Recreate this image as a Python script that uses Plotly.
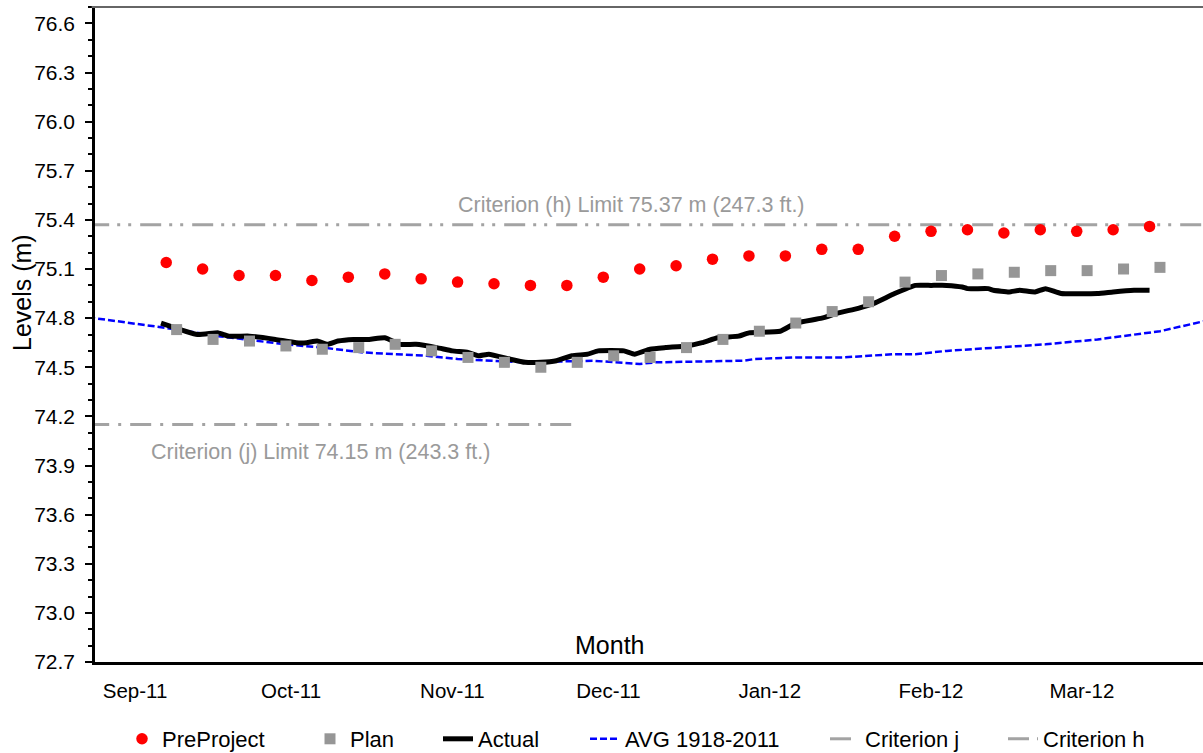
import plotly.graph_objects as go

# ---------------- data ----------------
month_ticks = ["2011-09-01", "2011-10-01", "2011-11-01", "2011-12-01",
               "2012-01-01", "2012-02-01", "2012-03-01"]
month_labels = ["Sep-11", "Oct-11", "Nov-11", "Dec-11", "Jan-12", "Feb-12", "Mar-12"]

preproject_dates = ["2011-09-07", "2011-09-14", "2011-09-21", "2011-09-28", "2011-10-05",
                    "2011-10-12", "2011-10-19", "2011-10-26", "2011-11-02", "2011-11-09",
                    "2011-11-16", "2011-11-23", "2011-11-30", "2011-12-07", "2011-12-14",
                    "2011-12-21", "2011-12-28", "2012-01-04", "2012-01-11", "2012-01-18",
                    "2012-01-25", "2012-02-01", "2012-02-08", "2012-02-15", "2012-02-22",
                    "2012-02-29", "2012-03-07", "2012-03-14"]
preproject_vals = [75.14, 75.10, 75.06, 75.06, 75.03, 75.05, 75.07, 75.04, 75.02, 75.01,
                   75.00, 75.00, 75.05, 75.10, 75.12, 75.16, 75.18, 75.18, 75.22, 75.22,
                   75.30, 75.33, 75.34, 75.32, 75.34, 75.33, 75.34, 75.36]

plan_dates = ["2011-09-09", "2011-09-16", "2011-09-23", "2011-09-30", "2011-10-07",
              "2011-10-14", "2011-10-21", "2011-10-28", "2011-11-04", "2011-11-11",
              "2011-11-18", "2011-11-25", "2011-12-02", "2011-12-09", "2011-12-16",
              "2011-12-23", "2011-12-30", "2012-01-06", "2012-01-13", "2012-01-20",
              "2012-01-27", "2012-02-03", "2012-02-10", "2012-02-17", "2012-02-24",
              "2012-03-02", "2012-03-09", "2012-03-16"]
plan_vals = [74.73, 74.67, 74.66, 74.63, 74.61, 74.62, 74.64, 74.60, 74.56, 74.53,
             74.50, 74.53, 74.57, 74.56, 74.62, 74.67, 74.72, 74.77, 74.84, 74.90,
             75.02, 75.06, 75.07, 75.08, 75.09, 75.09, 75.10, 75.11]

actual_dates = ["2011-09-06", "2011-09-13", "2011-09-17", "2011-09-19", "2011-09-23",
                "2011-09-28", "2011-10-02", "2011-10-04", "2011-10-06", "2011-10-08",
                "2011-10-10", "2011-10-13", "2011-10-16", "2011-10-19", "2011-10-22",
                "2011-10-25", "2011-10-29", "2011-11-01", "2011-11-04", "2011-11-06",
                "2011-11-08", "2011-11-12", "2011-11-15", "2011-11-18", "2011-11-21",
                "2011-11-24", "2011-11-27", "2011-11-29", "2011-12-04", "2011-12-06",
                "2011-12-09", "2011-12-12", "2011-12-16", "2011-12-19", "2011-12-22",
                "2011-12-26", "2011-12-28", "2012-01-03", "2012-01-06", "2012-01-11",
                "2012-01-14", "2012-01-18", "2012-01-21", "2012-01-25", "2012-01-29",
                "2012-02-01", "2012-02-04", "2012-02-07", "2012-02-08", "2012-02-12",
                "2012-02-13", "2012-02-16", "2012-02-18", "2012-02-21", "2012-02-23",
                "2012-02-26", "2012-03-04", "2012-03-07", "2012-03-11", "2012-03-14"]
actual_vals = [74.77, 74.70, 74.71, 74.69, 74.69,
               74.67, 74.65, 74.65, 74.66, 74.64,
               74.66, 74.67, 74.67, 74.68, 74.64,
               74.64, 74.62, 74.60, 74.59, 74.57,
               74.58, 74.55, 74.53, 74.53, 74.54,
               74.57, 74.58, 74.60, 74.60, 74.58,
               74.61, 74.62, 74.63, 74.65, 74.68,
               74.69, 74.71, 74.72, 74.77, 74.80,
               74.83, 74.86, 74.89, 74.95, 75.00,
               75.00, 75.00, 74.99, 74.98, 74.98,
               74.97, 74.96, 74.97, 74.96, 74.98,
               74.95, 74.95, 74.96, 74.97, 74.97]

avg_dates = ["2011-08-23", "2011-09-07", "2011-09-17", "2011-09-30", "2011-10-07",
             "2011-10-15", "2011-10-27", "2011-11-02", "2011-11-15", "2011-11-28",
             "2011-12-07", "2011-12-10", "2011-12-27", "2011-12-29", "2012-01-06",
             "2012-01-15", "2012-01-25", "2012-01-29", "2012-02-04", "2012-02-14",
             "2012-02-23", "2012-03-04", "2012-03-16", "2012-03-25"]
avg_vals = [74.805, 74.74, 74.69, 74.64, 74.62,
            74.59, 74.57, 74.55, 74.53, 74.54,
            74.52, 74.53, 74.54, 74.55, 74.56,
            74.56, 74.58, 74.58, 74.60, 74.62,
            74.64, 74.67, 74.72, 74.785]

criterion_j_dates = ["2011-08-23", "2011-11-24 12:00"]
criterion_j_vals = [74.15, 74.15]
criterion_h_dates = ["2011-08-23", "2012-03-26"]
criterion_h_vals = [75.37, 75.37]

# ---------------- figure ----------------
FONT = "Arial, 'Liberation Sans', sans-serif"
GRAY_LINE = "#a3a3a3"
GRAY_TEXT = "#9a9a9a"

fig = go.Figure()

fig.add_trace(go.Scatter(x=criterion_j_dates, y=criterion_j_vals, mode="lines",
                         name="Criterion j", legend="legend5",
                         line=dict(color=GRAY_LINE, width=3, dash="21px,9px,3px,9px")))
fig.add_trace(go.Scatter(x=criterion_h_dates, y=criterion_h_vals, mode="lines",
                         name="Criterion h", legend="legend6",
                         line=dict(color=GRAY_LINE, width=3,
                                   dash="21px,8px,3px,8px,3px,9px")))
fig.add_trace(go.Scatter(x=avg_dates, y=avg_vals, mode="lines", name="AVG 1918-2011",
                         legend="legend4",
                         line=dict(color="#0000ff", width=2.5, dash="7px,3px")))
fig.add_trace(go.Scatter(x=actual_dates, y=actual_vals, mode="lines", name="Actual",
                         legend="legend3",
                         line=dict(color="#000000", width=5, shape="spline",
                                   smoothing=0.4)))
fig.add_trace(go.Scatter(x=plan_dates, y=plan_vals, mode="markers", name="Plan",
                         legend="legend2",
                         marker=dict(symbol="square", size=11, color="#969696")))
fig.add_trace(go.Scatter(x=preproject_dates, y=preproject_vals, mode="markers",
                         name="PreProject", legend="legend",
                         marker=dict(symbol="circle", size=11.5, color="#ff0000")))

PW = 1108.0
PH = 655.0
H = 753.0


def px_x(p):
    return (p - 95) / PW


def px_y(p):
    return (662 - p) / PH


legend_common = dict(orientation="h", xanchor="left", yanchor="middle", yref="container",
                     bgcolor="rgba(0,0,0,0)", font=dict(family=FONT, size=22, color="#000"),
                     itemwidth=30)
legend_left_px = [122, 310, 438, 585, 825, 1003]
legend_keys = ["legend", "legend2", "legend3", "legend4", "legend5", "legend6"]
for key, lp in zip(legend_keys, legend_left_px):
    fig.update_layout({key: dict(legend_common, x=px_x(lp), y=1 - 739 / H)})

fig.update_layout(
    width=1203, height=753,
    margin=dict(l=95, r=0, t=7, b=91, autoexpand=False),
    paper_bgcolor="white", plot_bgcolor="white",
    font=dict(family=FONT, color="#000"),
    showlegend=True,
    xaxis=dict(
        type="date",
        range=["2011-08-24 07:24", "2012-03-24 06:30"],
        tickvals=month_ticks, ticktext=month_labels,
        ticks="", showgrid=False, zeroline=False,
        showline=True, linecolor="#000", linewidth=2.5,
        tickfont=dict(family=FONT, size=20.5, color="#000"),
        ticklabelstandoff=9,
    ),
    yaxis=dict(
        range=[72.7, 76.7], tick0=72.7, dtick=0.3, tickformat=".1f",
        ticks="outside", ticklen=7, tickwidth=1.5, tickcolor="#000",
        minor=dict(dtick=0.1, tick0=72.7, ticks="outside", ticklen=4,
                   tickwidth=1.5, tickcolor="#000", showgrid=False),
        showgrid=False, zeroline=False,
        showline=True, linecolor="#000", linewidth=2.5,
        tickfont=dict(family=FONT, size=21, color="#000"),
        ticklabelstandoff=6,
    ),
    shapes=[dict(type="line", xref="paper", yref="paper", x0=-0.003, x1=1, y0=1, y1=1,
                 line=dict(color="#666666", width=2))],
    annotations=[
        dict(text="Levels (m)", textangle=-90, xref="paper", yref="paper",
             x=px_x(22), y=px_y(292), xanchor="center", yanchor="middle",
             showarrow=False, font=dict(family=FONT, size=25, color="#000")),
        dict(text="Month", xref="paper", yref="paper",
             x=px_x(609), y=px_y(645), xanchor="center", yanchor="middle",
             showarrow=False, font=dict(family=FONT, size=25, color="#000")),
        dict(text="Criterion (h) Limit 75.37 m (247.3 ft.)", xref="paper", yref="paper",
             x=px_x(456), y=px_y(205), xanchor="left", yanchor="middle",
             showarrow=False, font=dict(family=FONT, size=21.5, color=GRAY_TEXT)),
        dict(text="Criterion (j) Limit 74.15 m (243.3 ft.)", xref="paper", yref="paper",
             x=px_x(149), y=px_y(452), xanchor="left", yanchor="middle",
             showarrow=False, font=dict(family=FONT, size=21.5, color=GRAY_TEXT)),
    ],
)

fig.write_html("out.html")
